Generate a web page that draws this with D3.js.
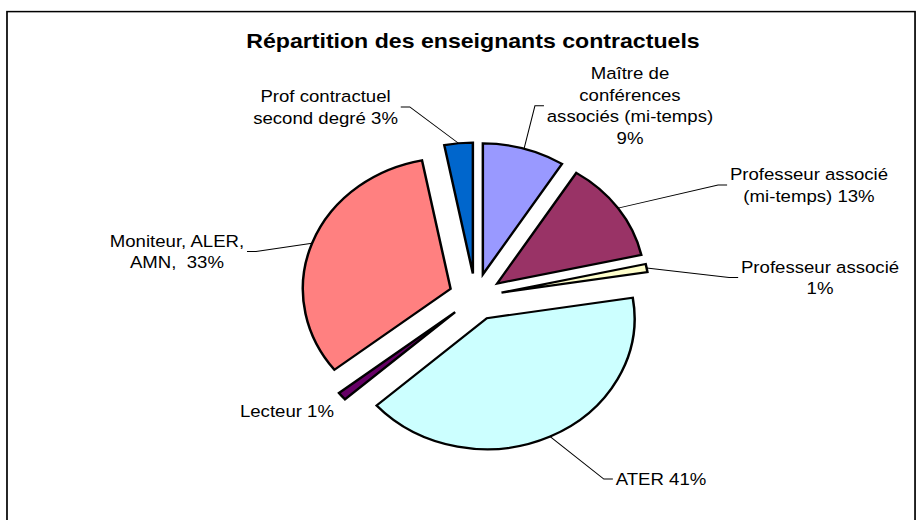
<!DOCTYPE html>
<html>
<head>
<meta charset="utf-8">
<script src="https://cdn.jsdelivr.net/npm/d3@7/dist/d3.min.js"></script>
<style>
  body { margin: 0; background: #fff; }
  svg { display: block; }
  text { font-family: "Liberation Sans", Arial, sans-serif; fill: #000; }
</style>
</head>
<body>
<div id="chart"></div>
<script>

var title = "Répartition des enseignants contractuels";

var categories = ["Maître de conférences associés (mi-temps)", "Professeur associé (mi-temps)",
  "Professeur associé", "ATER", "Lecteur", "Moniteur, ALER, AMN", "Prof contractuel second degré"];
var values = [9.0, 12.5, 1.0, 40.9, 1.0, 32.5, 3.1];
var colors = ["#9999FF", "#993366", "#FFFFCC", "#CCFFFF", "#660066", "#FF8080", "#0066CC"];
var labelLines = [
  ["Maître de", "conférences", "associés (mi-temps)", "9%"],
  ["Professeur associé", "(mi-temps) 13%"],
  ["Professeur associé", "1%"],
  ["ATER 41%"],
  ["Lecteur 1%"],
  ["Moniteur, ALER,", "AMN,  33%"],
  ["Prof contractuel", "second degré 3%"]
];

// label box centres (drawing units) and whether a leader line is drawn
var labelPos = [[558.5, 105.8], [717.2, 185], [727, 277.5], [586, 479], [254.4, 411], [156.9, 251.5], [288.6, 107]];
var hasLeader = [true, true, true, true, false, true, true];

// the original picture is stretched sideways, so the whole drawing is too
var width = 923, height = 520, stretch = 1.128,
    vbWidth = width / stretch;

var cx = 421.5, cy = 297, radius = 131, explode = 23.5, lineHeight = 21.5;

var svg = d3.select("#chart").append("svg")
  .attr("width", width)
  .attr("height", height)
  .attr("viewBox", `0 0 ${vbWidth} ${height}`)
  .attr("preserveAspectRatio", "none");

svg.append("rect")
  .attr("x", 6.2).attr("y", 11.6)
  .attr("width", 805).attr("height", 530)
  .attr("fill", "#fff")
  .attr("stroke", "#000")
  .attr("stroke-width", 1.5);

svg.append("text")
  .attr("x", 419.3).attr("y", 48)
  .attr("text-anchor", "middle")
  .style("font-size", "20.5px")
  .style("font-weight", "bold")
  .text(title);

var data = categories.map(function(c, i) {
  return {name: c, value: values[i], color: colors[i], lines: labelLines[i], pos: labelPos[i], leader: hasLeader[i]};
});

var pie = d3.pie().sort(null).value(d => d.value);
var arcs = pie(data);

var arc = d3.arc().innerRadius(0).outerRadius(radius);

function offset(d, dist) {
  var mid = (d.startAngle + d.endAngle) / 2;
  return [Math.sin(mid) * dist, -Math.cos(mid) * dist];
}

var pieGroup = svg.append("g")
  .attr("transform", `translate(${cx},${cy})`);

pieGroup.selectAll(".slice")
  .data(arcs)
  .enter().append("path")
  .attr("class", "slice")
  .attr("transform", function(d) {
    var o = offset(d, explode);
    return `translate(${o[0]},${o[1]})`;
  })
  .attr("d", arc)
  .attr("fill", d => d.data.color)
  .attr("stroke", "#000")
  .attr("stroke-width", 2.2)
  .attr("stroke-linejoin", "miter");

// labels
var labels = svg.selectAll(".label")
  .data(arcs)
  .enter().append("text")
  .attr("class", "label")
  .attr("text-anchor", "middle")
  .style("font-size", "16.5px")
  .style("white-space", "pre");

labels.each(function(d) {
  var n = d.data.lines.length;
  var t = d3.select(this);
  d.data.lines.forEach(function(line, i) {
    t.append("tspan")
      .attr("x", d.data.pos[0])
      .attr("y", d.data.pos[1] - (n - 1) / 2 * lineHeight + i * lineHeight)
      .attr("dy", "0.35em")
      .text(line);
  });
});

// leader lines from the slice edge to the label
labels.each(function(d) {
  if (!d.data.leader) return;
  var box = this.getBBox();
  var a = offset(d, explode), b = offset(d, radius);
  var start = [cx + a[0] + b[0], cy + a[1] + b[1]];
  var y = d.data.pos[1];
  var right = d.data.pos[0] > start[0];
  var edge = right ? box.x - 2.5 : box.x + box.width + 2.5;
  var knee = right ? edge - 8 : edge + 8;
  svg.append("polyline")
    .attr("points", [start, [knee, y], [edge, y]].map(p => p.join(",")).join(" "))
    .attr("fill", "none")
    .attr("stroke", "#000")
    .attr("stroke-width", 0.9);
});

</script>
</body>
</html>
